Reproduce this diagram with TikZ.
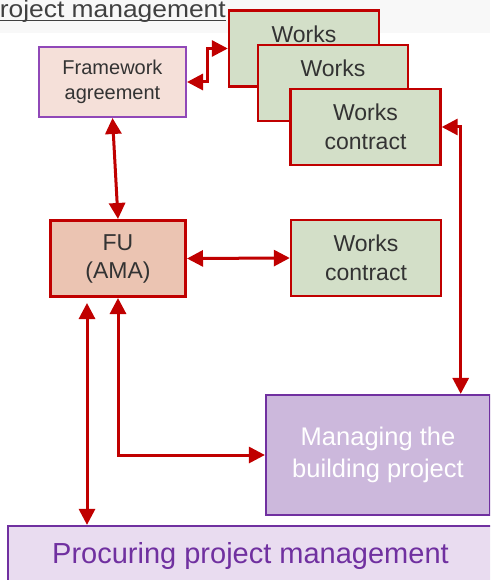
\documentclass[tikz,border=0pt]{standalone}
\usepackage{fontspec}
\setmainfont{Liberation Sans}
\newfontfamily\hdfont[FakeStretch=1.1]{Liberation Sans}
\usetikzlibrary{arrows.meta,calc}
\definecolor{arrred}{HTML}{C00000}
\definecolor{worksfill}{HTML}{D3DFC8}
\definecolor{fwfill}{HTML}{F5E0D9}
\definecolor{fwborder}{HTML}{9048B8}
\definecolor{fufill}{HTML}{EBC4B2}
\definecolor{mgfill}{HTML}{CCB8DC}
\definecolor{purp}{HTML}{7030A0}
\definecolor{prfill}{HTML}{E9DCF0}
\definecolor{txt}{HTML}{333333}
\definecolor{hdbg}{HTML}{F8F8F8}
\definecolor{hdtxt}{HTML}{404040}
\tikzset{
  box/.style={draw, inner sep=0pt, align=center, text=txt},
  worksbox/.style={box, draw=arrred, line width=2.4pt, fill=worksfill,
    minimum width=150pt, minimum height=76pt, font=\fontsize{23}{29}\selectfont},
  fwbox/.style={box, draw=fwborder, line width=2pt, fill=fwfill,
    minimum width=147pt, minimum height=70pt, font=\fontsize{20}{25}\selectfont},
  fubox/.style={box, draw=arrred, line width=3pt, fill=fufill,
    minimum width=135pt, minimum height=76pt, font=\fontsize{23}{28}\selectfont},
  mgbox/.style={box, draw=purp, line width=2.2pt, fill=mgfill, text=white,
    minimum width=224pt, minimum height=120pt, font=\fontsize{25.5}{32}\selectfont},
  prbox/.style={box, draw=purp, line width=2.2pt, fill=prfill, text=purp,
    minimum width=485pt, minimum height=60pt, font=\fontsize{29}{34}\selectfont},
  link/.style={draw=arrred, line width=3pt,
    {Triangle[length=16pt 0 0,width=16pt 0 0]}-{Triangle[length=16pt 0 0,width=16pt 0 0]}},
}
\begin{document}
\begin{tikzpicture}[x=1pt,y=-1pt]
\clip (0,0) rectangle (490,580);
\fill[white] (0,0) rectangle (490,580);
\fill[hdbg] (0,0) rectangle (490,33);
\node[font=\hdfont\fontsize{24}{28}\selectfont, text=hdtxt, anchor=base east, inner sep=0pt] (hd) at (226,17.5) {roject management};
\draw[hdtxt, line width=1.2pt] ([yshift=-2.8pt]hd.base west) -- ([yshift=-2.8pt]hd.base east);

\node[worksbox] (w1) at (304,48.5) {Works\\\mbox{}};
\node[worksbox] (w2) at (333,83) {Works\\\mbox{}};
\node[worksbox] (w3) at (365.5,127) {Works\\contract};
\node[fwbox] (fw) at (112.5,82) {Framework\\agreement};
\node[fubox] (fu) at (118,258.5) {FU\\(AMA)};
\node[worksbox] (wc) at (366,258) {Works\\contract};
\node[mgbox] (mg) at (378,455) {Managing the\\building project};
\node[prbox] (pr) at (250.5,556) {Procuring project management};

\draw[link] (fw.east) -- ++(20,0) |- (w1.west);
\draw[link] (fw.south) -- (fu.north);
\draw[link] (fu.east) -- (wc.west);
\draw[link] (w3.east) -- ++(19,0) coordinate (rt) -- (rt |- mg.north);
\draw[link] (fu.south) |- (mg.west);
\coordinate (pl) at ($(fu.south)+(-31,5)$);
\draw[link] (pl) -- (pl |- pr.north);
\end{tikzpicture}
\end{document}
